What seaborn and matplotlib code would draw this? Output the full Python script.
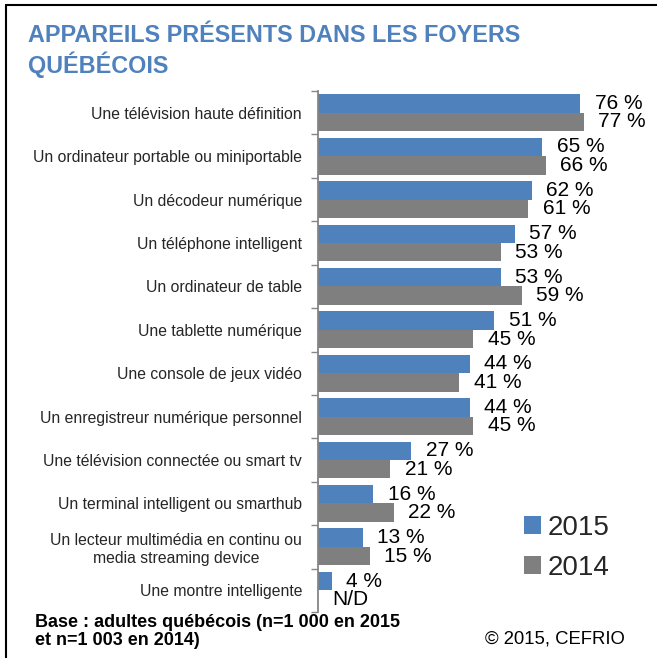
import seaborn as sns
import pandas as pd
import matplotlib.pyplot as plt
from matplotlib.lines import Line2D
from matplotlib.ticker import FixedLocator

categories = [
    "Une télévision haute définition",
    "Un ordinateur portable ou miniportable",
    "Un décodeur numérique",
    "Un téléphone intelligent",
    "Un ordinateur de table",
    "Une tablette numérique",
    "Une console de jeux vidéo",
    "Un enregistreur numérique personnel",
    "Une télévision connectée ou smart tv",
    "Un terminal intelligent ou smarthub",
    "Un lecteur multimédia en continu ou\nmedia streaming device",
    "Une montre intelligente",
]
values_2015 = [76, 65, 62, 57, 53, 51, 44, 44, 27, 16, 13, 4]
values_2014 = [77, 66, 61, 53, 59, 45, 41, 45, 21, 22, 15, None]
years = ["2015", "2014"]
colors = ["#4F81BD", "#7F7F7F"]

df = pd.DataFrame({
    "appareil": categories * 2,
    "annee": [years[0]] * len(categories) + [years[1]] * len(categories),
    "pct": [v if v is not None else 0 for v in values_2015 + values_2014],
})

sns.set_theme(style="white")
plt.rcParams['font.family'] = ['Liberation Sans', 'DejaVu Sans']

fig = plt.figure(figsize=(6.57, 6.58), dpi=100)
ax = fig.add_axes([318 / 657, 1 - 612 / 658, 300 / 657, 521 / 658])

sns.barplot(data=df, y="appareil", x="pct", hue="annee", hue_order=years,
            palette=colors, width=0.85, orient="h", ax=ax, linewidth=0,
            saturation=1, legend=True)

ax.set_xlim(0, 300 / 3.45)
ax.set_ylim(len(categories) - 0.5, -0.5)

# étiquettes de valeurs
for cont, vals in zip(ax.containers, [values_2015, values_2014]):
    labels = [f"{v} %" if v is not None else "N/D" for v in vals]
    ax.bar_label(cont, labels=labels, padding=10.5, fontsize=15, color="black")

ax.set_xlabel("")
ax.set_ylabel("")
ax.set_xticks([])
ax.tick_params(axis="y", which="major", length=0, pad=11.5, labelsize=11.3)
for lab in ax.get_yticklabels():
    lab.set_multialignment("center")
ax.yaxis.set_minor_locator(FixedLocator([i - 0.5 for i in range(len(categories) + 1)]))
ax.tick_params(axis="y", which="minor", left=True, length=5, width=1, color="#868686")
for s in ["top", "right", "bottom"]:
    ax.spines[s].set_visible(False)
ax.spines["left"].set_color("#868686")
ax.spines["left"].set_linewidth(1.3)

handles, labs = ax.get_legend_handles_labels()
ax.legend(handles, labs, loc="upper left", bbox_to_anchor=(524 / 657, 1 - 515 / 658),
          bbox_transform=fig.transFigure, frameon=False, fontsize=20,
          handlelength=0.6, handleheight=0.6, handletextpad=0.25,
          labelspacing=0.5, borderpad=0, borderaxespad=0)

fig.text(28 / 657, 1 - 24 / 658,
         "APPAREILS PRÉSENTS DANS LES FOYERS\nQUÉBÉCOIS",
         fontsize=16.8, fontweight="bold", color="#4F81BD", va="top", ha="left",
         linespacing=1.2)
fig.text(35 / 657, 1 - 614 / 658,
         "Base : adultes québécois (n=1 000 en 2015\net n=1 003 en 2014)",
         fontsize=13, fontweight="bold", color="black", va="top", ha="left",
         linespacing=1.05)
fig.text(485 / 657, 1 - 639 / 658, "© 2015, CEFRIO",
         fontsize=13.3, color="black", va="center", ha="left")

# cadre
fig.add_artist(Line2D([6 / 657, 1], [1 - 5 / 658, 1 - 5 / 658], color="black", lw=1.5,
                      transform=fig.transFigure))
fig.add_artist(Line2D([6 / 657, 6 / 657], [0, 1 - 5 / 658], color="black", lw=1.5,
                      transform=fig.transFigure))

fig.savefig("out.png", dpi=100)
